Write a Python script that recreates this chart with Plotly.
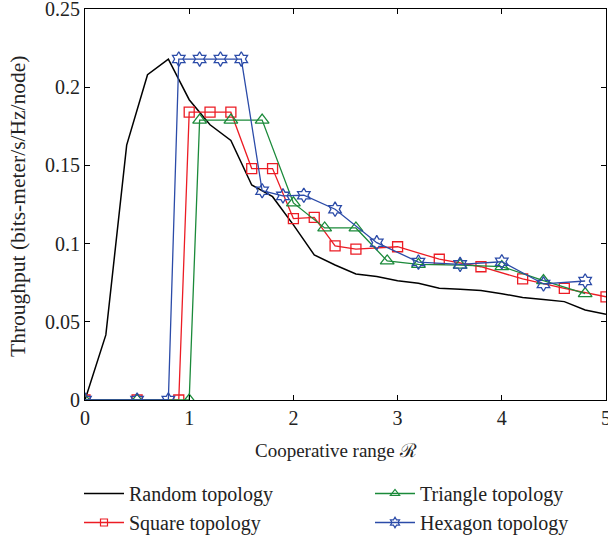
import plotly.graph_objects as go

# Random topology
rand_x = [0, 0.2, 0.4, 0.6, 0.8, 1.0, 1.2, 1.4, 1.6, 1.8, 2.0, 2.2, 2.4, 2.6, 2.8, 3.0, 3.2, 3.4, 3.6, 3.8, 4.0, 4.2, 4.4, 4.6, 4.8, 5.0]
rand_y = [0, 0.0416, 0.163, 0.208, 0.218, 0.192, 0.176, 0.166, 0.1375, 0.130, 0.112, 0.0927, 0.0863, 0.0806, 0.079, 0.0763, 0.0746, 0.0714, 0.0708, 0.070, 0.068, 0.0655, 0.0643, 0.0629, 0.0575, 0.0548]

# Square topology
sq_x = [0, 0.5, 0.9, 1.0, 1.2, 1.4, 1.6, 1.8, 2.0, 2.2, 2.4, 2.6, 3.0, 3.4, 3.8, 4.2, 4.6, 5.0]
sq_y = [0, 0, 0, 0.184, 0.184, 0.184, 0.148, 0.148, 0.116, 0.1168, 0.0985, 0.0965, 0.098, 0.090, 0.0852, 0.0774, 0.0714, 0.066]

# Triangle topology
tri_x = [0, 0.5, 1.0, 1.1, 1.4, 1.7, 2.0, 2.3, 2.6, 2.9, 3.2, 3.6, 4.0, 4.4, 4.8]
tri_y = [0, 0, 0, 0.179, 0.179, 0.179, 0.126, 0.110, 0.110, 0.0889, 0.0867, 0.0863, 0.0853, 0.0763, 0.068]

# Hexagon topology
hex_x = [0, 0.5, 0.8, 0.9, 1.1, 1.3, 1.5, 1.7, 1.9, 2.1, 2.4, 2.8, 3.2, 3.6, 4.0, 4.4, 4.8]
hex_y = [0, 0, 0, 0.218, 0.218, 0.218, 0.218, 0.1338, 0.1305, 0.1309, 0.122, 0.1006, 0.0882, 0.0867, 0.0884, 0.0742, 0.0761]

x_ticks = [0, 1, 2, 3, 4, 5]
y_ticks = [0, 0.05, 0.1, 0.15, 0.2, 0.25]
y_tick_labels = ["0", "0.05", "0.1", "0.15", "0.2", "0.25"]

x_title = "Cooperative range ℛ"
y_title = "Throughput (bits-meter/s/Hz/node)"

FONT = "Liberation Serif"
TXT = "#222222"
RED = "#ec1c24"
GREEN = "#1b8a3a"
BLUE = "#2b4ba8"

series = [
    # name, x, y, color, symbol, plot marker size, legend marker size, legend group
    ("Random topology", rand_x, rand_y, "black", None, 0, 0, "legend"),
    ("Square topology", sq_x, sq_y, RED, "square-open", 10, 7, "legend"),
    ("Triangle topology", tri_x, tri_y, GREEN, "triangle-up-open", 12, 8, "legend2"),
    ("Hexagon topology", hex_x, hex_y, BLUE, "hexagram-open", 11, 8, "legend2"),
]

fig = go.Figure()
for name, xs, ys, col, sym, msize, lsize, leg in series:
    width = 1.5 if sym is None else 1.3
    if sym is None:
        fig.add_trace(go.Scatter(x=xs, y=ys, mode="lines", name=name, showlegend=False,
                                 line=dict(color=col, width=width)))
        # legend-only entry (no data) so the legend symbol matches the reference style
        fig.add_trace(go.Scatter(x=[None], y=[None], mode="lines", name=name, legend=leg,
                                 line=dict(color=col, width=width)))
    else:
        fig.add_trace(go.Scatter(x=xs, y=ys, mode="lines+markers", name=name, showlegend=False,
                                 line=dict(color=col, width=width),
                                 marker=dict(symbol=sym, size=msize, color=col, line=dict(width=1.3))))
        fig.add_trace(go.Scatter(x=[None], y=[None], mode="lines+markers", name=name, legend=leg,
                                 line=dict(color=col, width=width),
                                 marker=dict(symbol=sym, size=lsize, color=col, line=dict(width=1.2))))

axis_common = dict(showline=True, linecolor="black", linewidth=1, mirror="ticks",
                   ticks="inside", ticklen=5, tickcolor="black", showgrid=False, zeroline=False,
                   automargin=False, ticklabeloverflow="allow",
                   tickfont=dict(family=FONT, size=20, color=TXT))

fig.update_xaxes(range=[0, 5], tickvals=x_ticks, ticktext=[str(v) for v in x_ticks], **axis_common)
fig.update_yaxes(range=[0, 0.25], tickvals=y_ticks, ticktext=y_tick_labels, **axis_common)

# axis titles as text annotations placed in the margins (paper coords: plot spans x 85..606, y 9..400 px)
fig.add_annotation(text=x_title, xref="paper", yref="paper", x=(336 - 85) / 521, y=(400 - 451) / 391,
                   xanchor="center", yanchor="middle", showarrow=False,
                   font=dict(family=FONT, size=19, color=TXT))
fig.add_annotation(text=y_title, xref="paper", yref="paper", x=(18 - 85) / 521, y=(400 - 206) / 391,
                   xanchor="center", yanchor="middle", showarrow=False, textangle=-90,
                   font=dict(family=FONT, size=21.5, color=TXT))

leg_common = dict(orientation="v", xref="container", yref="container",
                  xanchor="left", yanchor="top", tracegroupgap=0, itemwidth=40,
                  bgcolor="rgba(0,0,0,0)", borderwidth=0,
                  font=dict(family=FONT, size=20, color=TXT))

fig.update_layout(
    width=608, height=537,
    margin=dict(l=85, r=2, t=9, b=137, autoexpand=False),
    paper_bgcolor="white", plot_bgcolor="white",
    showlegend=True,
    legend=dict(x=79/608, y=1 - 474/537, **leg_common),
    legend2=dict(x=370/608, y=1 - 474/537, **leg_common),
)

fig.write_html("out.html", config={"displayModeBar": False},
               post_script="document.body.style.margin='0';document.body.style.overflow='hidden';")
